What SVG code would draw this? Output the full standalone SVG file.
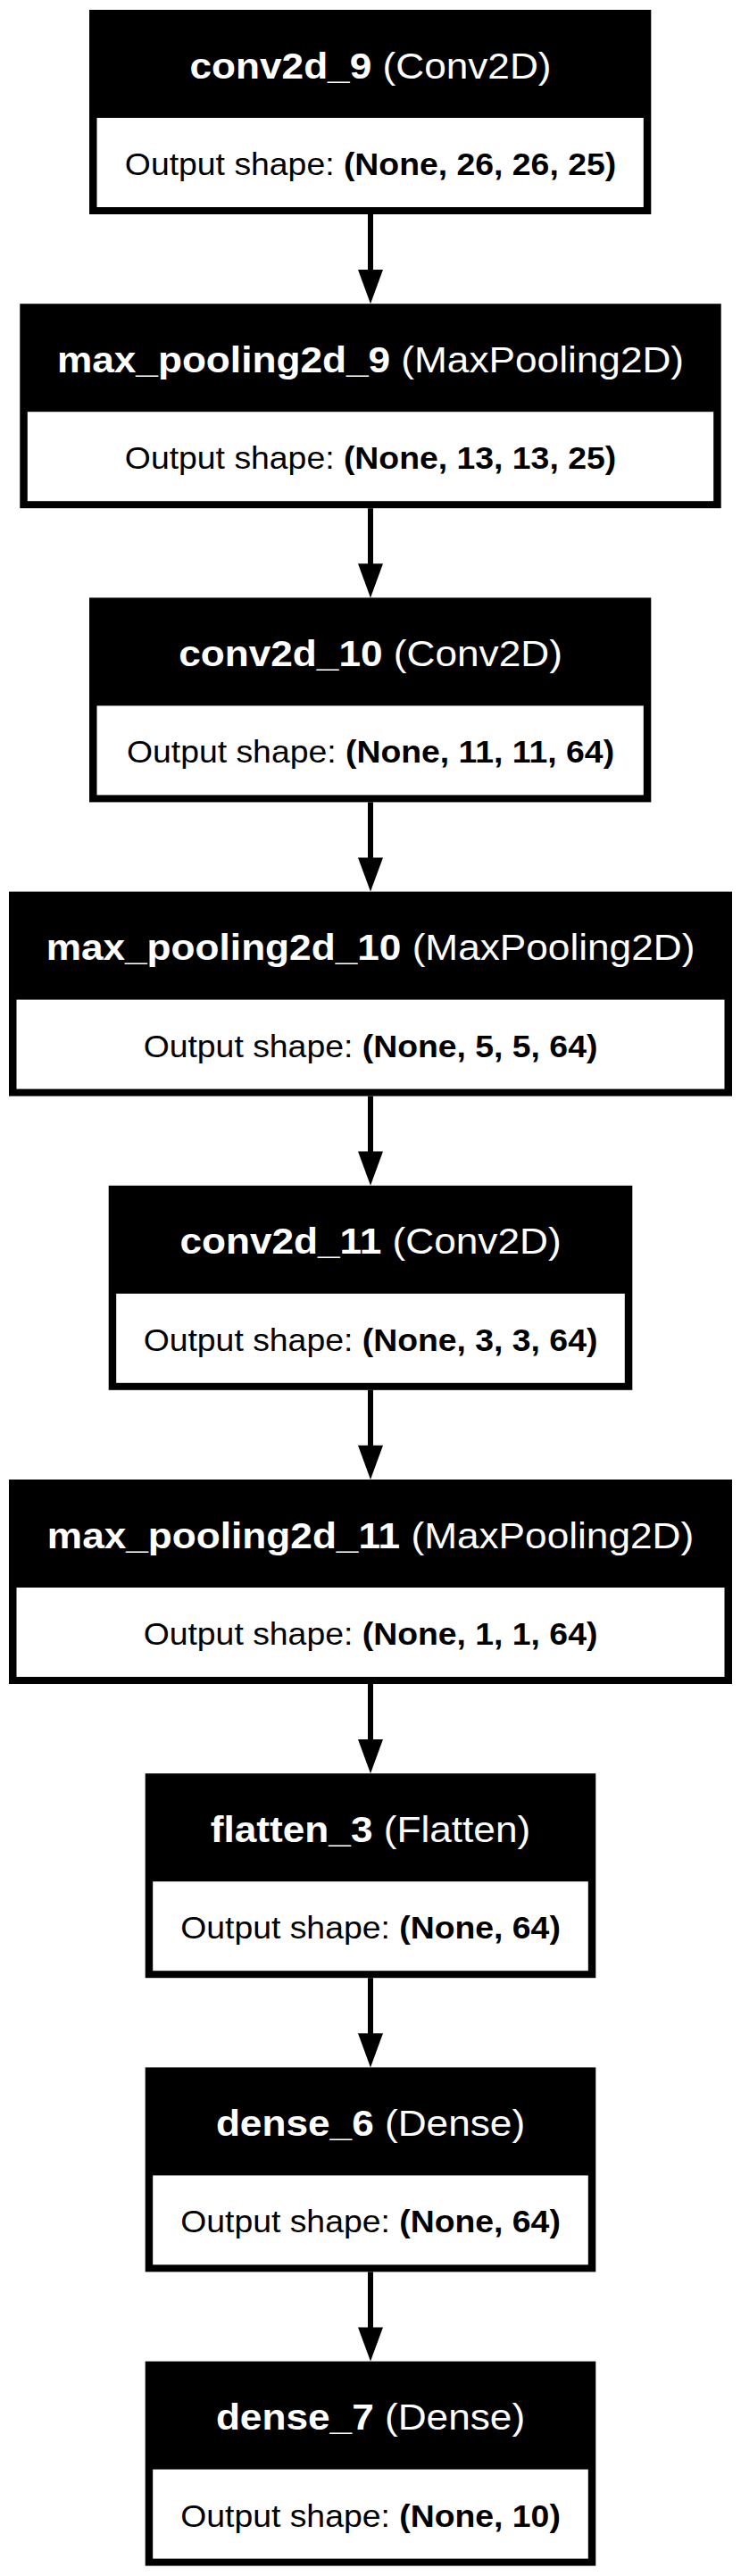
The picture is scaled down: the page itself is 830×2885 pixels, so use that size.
<svg xmlns="http://www.w3.org/2000/svg" width="830" height="2885" viewBox="0 0 830 2885">
<style>
.bg{fill:#ffffff}
.outer{fill:#000000}
.cell{fill:#ffffff}
text{font-family:"Liberation Sans",Arial,Helvetica,sans-serif;text-anchor:middle}
.h{font-size:41px;fill:#ffffff}
.b{font-size:35px;fill:#000000}
.bold{font-weight:bold}
.edge{stroke:#000000;stroke-width:6;fill:none}
.head{fill:#000000}
</style>
<rect class="bg" x="0" y="0" width="830" height="2885"/>
<g id="connectors">
<line class="edge" x1="415" y1="240" x2="415" y2="303"/>
<polygon class="head" points="401,302 429,302 415,340.2"/>
<line class="edge" x1="415" y1="569.2" x2="415" y2="632.2"/>
<polygon class="head" points="401,631.2 429,631.2 415,669.4"/>
<line class="edge" x1="415" y1="898.4" x2="415" y2="961.4"/>
<polygon class="head" points="401,960.4 429,960.4 415,998.6"/>
<line class="edge" x1="415" y1="1227.6" x2="415" y2="1290.6"/>
<polygon class="head" points="401,1289.6 429,1289.6 415,1327.8"/>
<line class="edge" x1="415" y1="1556.8" x2="415" y2="1619.8"/>
<polygon class="head" points="401,1618.8 429,1618.8 415,1657"/>
<line class="edge" x1="415" y1="1886" x2="415" y2="1949"/>
<polygon class="head" points="401,1948 429,1948 415,1986.2"/>
<line class="edge" x1="415" y1="2215.2" x2="415" y2="2278.2"/>
<polygon class="head" points="401,2277.2 429,2277.2 415,2315.4"/>
<line class="edge" x1="415" y1="2544.4" x2="415" y2="2607.4"/>
<polygon class="head" points="401,2606.4 429,2606.4 415,2644.6"/>
</g>
<g id="conv2d_9">
<rect class="outer" x="100" y="11" width="629.3" height="229"/>
<rect class="cell" x="108.5" y="132" width="612.3" height="100"/>
<text class="h" transform="translate(415,87.5) scale(1.078,1)"><tspan class="bold">conv2d_9</tspan> (Conv2D)</text>
<text class="b" transform="translate(415,196) scale(1.068,1)">Output shape: <tspan class="bold">(None, 26, 26, 25)</tspan></text>
</g>
<g id="max_pooling2d_9">
<rect class="outer" x="22.3" y="340.2" width="785.4" height="229"/>
<rect class="cell" x="30.8" y="461.2" width="768.4" height="100"/>
<text class="h" transform="translate(415,416.7) scale(1.078,1)"><tspan class="bold">max_pooling2d_9</tspan> (MaxPooling2D)</text>
<text class="b" transform="translate(415,525.2) scale(1.068,1)">Output shape: <tspan class="bold">(None, 13, 13, 25)</tspan></text>
</g>
<g id="conv2d_10">
<rect class="outer" x="100" y="669.4" width="629.3" height="229"/>
<rect class="cell" x="108.5" y="790.4" width="612.3" height="100"/>
<text class="h" transform="translate(415,745.9) scale(1.078,1)"><tspan class="bold">conv2d_10</tspan> (Conv2D)</text>
<text class="b" transform="translate(415,854.4) scale(1.068,1)">Output shape: <tspan class="bold">(None, 11, 11, 64)</tspan></text>
</g>
<g id="max_pooling2d_10">
<rect class="outer" x="10" y="998.6" width="810" height="229"/>
<rect class="cell" x="18.5" y="1119.6" width="793" height="100"/>
<text class="h" transform="translate(415,1075.1) scale(1.078,1)"><tspan class="bold">max_pooling2d_10</tspan> (MaxPooling2D)</text>
<text class="b" transform="translate(415,1183.6) scale(1.068,1)">Output shape: <tspan class="bold">(None, 5, 5, 64)</tspan></text>
</g>
<g id="conv2d_11">
<rect class="outer" x="121.7" y="1327.8" width="586.6" height="229"/>
<rect class="cell" x="130.2" y="1448.8" width="569.6" height="100"/>
<text class="h" transform="translate(415,1404.3) scale(1.078,1)"><tspan class="bold">conv2d_11</tspan> (Conv2D)</text>
<text class="b" transform="translate(415,1512.8) scale(1.068,1)">Output shape: <tspan class="bold">(None, 3, 3, 64)</tspan></text>
</g>
<g id="max_pooling2d_11">
<rect class="outer" x="10" y="1657" width="810" height="229"/>
<rect class="cell" x="18.5" y="1778" width="793" height="100"/>
<text class="h" transform="translate(415,1733.5) scale(1.078,1)"><tspan class="bold">max_pooling2d_11</tspan> (MaxPooling2D)</text>
<text class="b" transform="translate(415,1842) scale(1.068,1)">Output shape: <tspan class="bold">(None, 1, 1, 64)</tspan></text>
</g>
<g id="flatten_3">
<rect class="outer" x="162.7" y="1986.2" width="504.6" height="229"/>
<rect class="cell" x="171.2" y="2107.2" width="487.6" height="100"/>
<text class="h" transform="translate(415,2062.7) scale(1.078,1)"><tspan class="bold">flatten_3</tspan> (Flatten)</text>
<text class="b" transform="translate(415,2171.2) scale(1.068,1)">Output shape: <tspan class="bold">(None, 64)</tspan></text>
</g>
<g id="dense_6">
<rect class="outer" x="162.7" y="2315.4" width="504.6" height="229"/>
<rect class="cell" x="171.2" y="2436.4" width="487.6" height="100"/>
<text class="h" transform="translate(415,2391.9) scale(1.078,1)"><tspan class="bold">dense_6</tspan> (Dense)</text>
<text class="b" transform="translate(415,2500.4) scale(1.068,1)">Output shape: <tspan class="bold">(None, 64)</tspan></text>
</g>
<g id="dense_7">
<rect class="outer" x="162.7" y="2644.6" width="504.6" height="229"/>
<rect class="cell" x="171.2" y="2765.6" width="487.6" height="100"/>
<text class="h" transform="translate(415,2721.1) scale(1.078,1)"><tspan class="bold">dense_7</tspan> (Dense)</text>
<text class="b" transform="translate(415,2829.6) scale(1.068,1)">Output shape: <tspan class="bold">(None, 10)</tspan></text>
</g>
</svg>
